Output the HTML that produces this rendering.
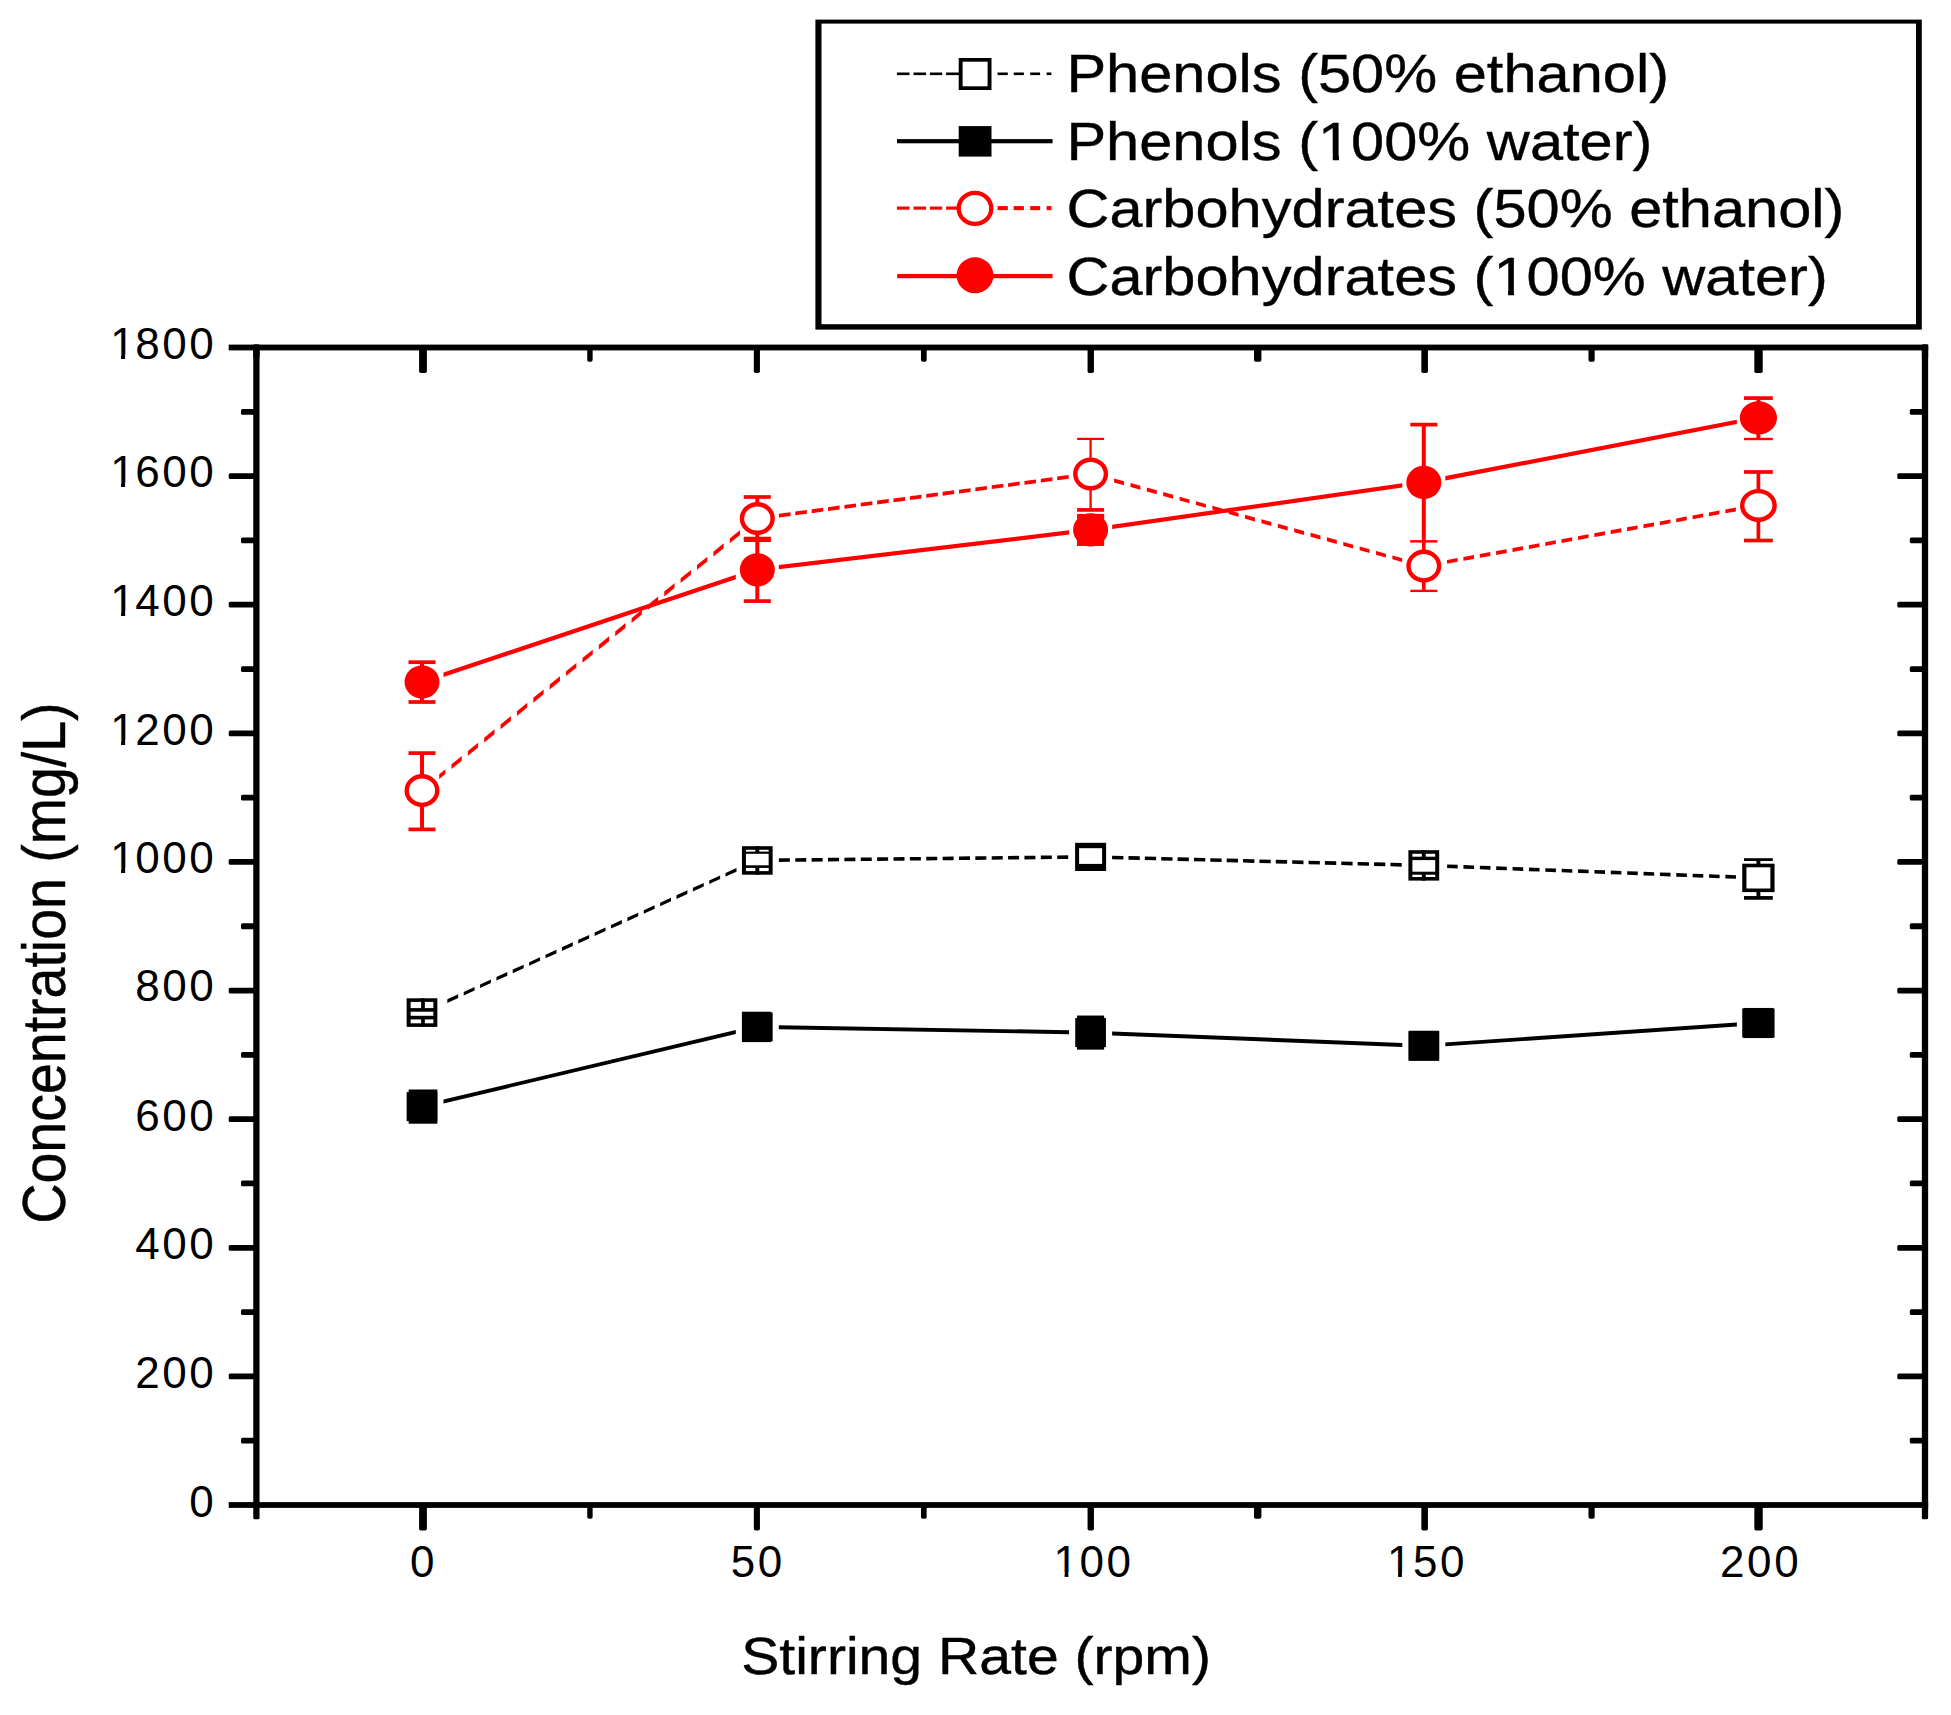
<!DOCTYPE html>
<html lang="en">
<head>
<meta charset="utf-8">
<title>Concentration vs Stirring Rate</title>
<style>
html,body{margin:0;padding:0;background:#fff;}
body{width:1951px;height:1715px;overflow:hidden;}
svg{display:block;font-family:"Liberation Sans", Arial, Helvetica, sans-serif;}
</style>
</head>
<body>
<svg width="1951" height="1715" viewBox="0 0 1951 1715" shape-rendering="geometricPrecision">
<rect x="0" y="0" width="1951" height="1715" fill="#fff"/>
<rect x="228.70" y="344.60" width="1699.45" height="5.80" fill="#000"/>
<rect x="228.70" y="1502.10" width="1699.45" height="5.80" fill="#000"/>
<rect x="253.25" y="344.60" width="6.30" height="1174.70" rx="1.5" ry="1.5" fill="#000"/>
<rect x="1921.85" y="344.60" width="6.30" height="1174.70" rx="1.5" ry="1.5" fill="#000"/>
<rect x="253.25" y="344.60" width="6.30" height="12.90" fill="#000"/>
<rect x="1921.85" y="344.60" width="6.30" height="12.90" fill="#000"/>
<rect x="241.00" y="1437.79" width="15.40" height="5.80" rx="1.5" ry="1.5" fill="#000"/>
<rect x="1909.80" y="1437.79" width="15.20" height="5.80" rx="1.5" ry="1.5" fill="#000"/>
<rect x="228.70" y="1373.49" width="27.70" height="5.80" rx="1.5" ry="1.5" fill="#000"/>
<rect x="1897.30" y="1373.49" width="27.70" height="5.80" rx="1.5" ry="1.5" fill="#000"/>
<rect x="241.00" y="1309.18" width="15.40" height="5.80" rx="1.5" ry="1.5" fill="#000"/>
<rect x="1909.80" y="1309.18" width="15.20" height="5.80" rx="1.5" ry="1.5" fill="#000"/>
<rect x="228.70" y="1244.88" width="27.70" height="5.80" rx="1.5" ry="1.5" fill="#000"/>
<rect x="1897.30" y="1244.88" width="27.70" height="5.80" rx="1.5" ry="1.5" fill="#000"/>
<rect x="241.00" y="1180.57" width="15.40" height="5.80" rx="1.5" ry="1.5" fill="#000"/>
<rect x="1909.80" y="1180.57" width="15.20" height="5.80" rx="1.5" ry="1.5" fill="#000"/>
<rect x="228.70" y="1116.27" width="27.70" height="5.80" rx="1.5" ry="1.5" fill="#000"/>
<rect x="1897.30" y="1116.27" width="27.70" height="5.80" rx="1.5" ry="1.5" fill="#000"/>
<rect x="241.00" y="1051.96" width="15.40" height="5.80" rx="1.5" ry="1.5" fill="#000"/>
<rect x="1909.80" y="1051.96" width="15.20" height="5.80" rx="1.5" ry="1.5" fill="#000"/>
<rect x="228.70" y="987.66" width="27.70" height="5.80" rx="1.5" ry="1.5" fill="#000"/>
<rect x="1897.30" y="987.66" width="27.70" height="5.80" rx="1.5" ry="1.5" fill="#000"/>
<rect x="241.00" y="923.35" width="15.40" height="5.80" rx="1.5" ry="1.5" fill="#000"/>
<rect x="1909.80" y="923.35" width="15.20" height="5.80" rx="1.5" ry="1.5" fill="#000"/>
<rect x="228.70" y="859.04" width="27.70" height="5.80" rx="1.5" ry="1.5" fill="#000"/>
<rect x="1897.30" y="859.04" width="27.70" height="5.80" rx="1.5" ry="1.5" fill="#000"/>
<rect x="241.00" y="794.74" width="15.40" height="5.80" rx="1.5" ry="1.5" fill="#000"/>
<rect x="1909.80" y="794.74" width="15.20" height="5.80" rx="1.5" ry="1.5" fill="#000"/>
<rect x="228.70" y="730.43" width="27.70" height="5.80" rx="1.5" ry="1.5" fill="#000"/>
<rect x="1897.30" y="730.43" width="27.70" height="5.80" rx="1.5" ry="1.5" fill="#000"/>
<rect x="241.00" y="666.13" width="15.40" height="5.80" rx="1.5" ry="1.5" fill="#000"/>
<rect x="1909.80" y="666.13" width="15.20" height="5.80" rx="1.5" ry="1.5" fill="#000"/>
<rect x="228.70" y="601.82" width="27.70" height="5.80" rx="1.5" ry="1.5" fill="#000"/>
<rect x="1897.30" y="601.82" width="27.70" height="5.80" rx="1.5" ry="1.5" fill="#000"/>
<rect x="241.00" y="537.52" width="15.40" height="5.80" rx="1.5" ry="1.5" fill="#000"/>
<rect x="1909.80" y="537.52" width="15.20" height="5.80" rx="1.5" ry="1.5" fill="#000"/>
<rect x="228.70" y="473.21" width="27.70" height="5.80" rx="1.5" ry="1.5" fill="#000"/>
<rect x="1897.30" y="473.21" width="27.70" height="5.80" rx="1.5" ry="1.5" fill="#000"/>
<rect x="241.00" y="408.91" width="15.40" height="5.80" rx="1.5" ry="1.5" fill="#000"/>
<rect x="1909.80" y="408.91" width="15.20" height="5.80" rx="1.5" ry="1.5" fill="#000"/>
<rect x="419.10" y="1505.00" width="7.80" height="25.50" rx="1.8" ry="1.8" fill="#000"/>
<rect x="419.10" y="347.50" width="7.80" height="25.50" rx="1.8" ry="1.8" fill="#000"/>
<rect x="587.24" y="1505.00" width="5.40" height="13.80" rx="1.8" ry="1.8" fill="#000"/>
<rect x="587.24" y="347.50" width="5.40" height="14.30" rx="1.8" ry="1.8" fill="#000"/>
<rect x="753.83" y="1505.00" width="6.10" height="25.50" rx="1.8" ry="1.8" fill="#000"/>
<rect x="753.83" y="347.50" width="6.10" height="25.50" rx="1.8" ry="1.8" fill="#000"/>
<rect x="920.97" y="1505.00" width="5.70" height="13.80" rx="1.8" ry="1.8" fill="#000"/>
<rect x="920.97" y="347.50" width="5.70" height="14.30" rx="1.8" ry="1.8" fill="#000"/>
<rect x="1087.56" y="1505.00" width="6.40" height="25.50" rx="1.8" ry="1.8" fill="#000"/>
<rect x="1087.56" y="347.50" width="6.40" height="25.50" rx="1.8" ry="1.8" fill="#000"/>
<rect x="1254.00" y="1505.00" width="7.40" height="13.80" rx="1.8" ry="1.8" fill="#000"/>
<rect x="1254.00" y="347.50" width="7.40" height="14.30" rx="1.8" ry="1.8" fill="#000"/>
<rect x="1421.34" y="1505.00" width="6.60" height="25.50" rx="1.8" ry="1.8" fill="#000"/>
<rect x="1421.34" y="347.50" width="6.60" height="25.50" rx="1.8" ry="1.8" fill="#000"/>
<rect x="1588.48" y="1505.00" width="6.20" height="13.80" rx="1.8" ry="1.8" fill="#000"/>
<rect x="1588.48" y="347.50" width="6.20" height="14.30" rx="1.8" ry="1.8" fill="#000"/>
<rect x="1754.32" y="1505.00" width="8.40" height="25.50" rx="1.8" ry="1.8" fill="#000"/>
<rect x="1754.32" y="347.50" width="8.40" height="25.50" rx="1.8" ry="1.8" fill="#000"/>
<text transform="translate(216.30,1516.90) scale(0.989165,1)" font-size="44.5" text-anchor="end" fill="#000" letter-spacing="2.6">0</text>
<text transform="translate(216.30,1387.99) scale(0.989165,1)" font-size="44.5" text-anchor="end" fill="#000" letter-spacing="2.6">200</text>
<text transform="translate(216.30,1259.38) scale(0.989165,1)" font-size="44.5" text-anchor="end" fill="#000" letter-spacing="2.6">400</text>
<text transform="translate(216.30,1130.77) scale(0.989165,1)" font-size="44.5" text-anchor="end" fill="#000" letter-spacing="2.6">600</text>
<text transform="translate(216.30,1001.36) scale(0.989165,1)" font-size="44.5" text-anchor="end" fill="#000" letter-spacing="2.6">800</text>
<text transform="translate(216.30,872.74) scale(0.989165,1)" font-size="44.5" text-anchor="end" fill="#000" letter-spacing="2.6" dx="0 -2.1">1000</text>
<text transform="translate(216.30,745.43) scale(0.989165,1)" font-size="44.5" text-anchor="end" fill="#000" letter-spacing="2.6" dx="0 -2.1">1200</text>
<text transform="translate(216.30,616.32) scale(0.989165,1)" font-size="44.5" text-anchor="end" fill="#000" letter-spacing="2.6" dx="0 -2.1">1400</text>
<text transform="translate(216.30,487.21) scale(0.989165,1)" font-size="44.5" text-anchor="end" fill="#000" letter-spacing="2.6" dx="0 -2.1">1600</text>
<text transform="translate(216.30,359.40) scale(0.989165,1)" font-size="44.5" text-anchor="end" fill="#000" letter-spacing="2.6" dx="0 -2.1">1800</text>
<text transform="translate(423.40,1577.40) scale(0.989165,1)" font-size="44.5" text-anchor="middle" fill="#000" letter-spacing="2.6">0</text>
<text transform="translate(757.78,1577.40) scale(0.989165,1)" font-size="44.5" text-anchor="middle" fill="#000" letter-spacing="2.6">50</text>
<text transform="translate(1093.56,1577.40) scale(0.989165,1)" font-size="44.5" text-anchor="middle" fill="#000" letter-spacing="2.6" dx="0 -1.0">100</text>
<text transform="translate(1427.04,1577.40) scale(0.989165,1)" font-size="44.5" text-anchor="middle" fill="#000" letter-spacing="2.6" dx="0 -1.0">150</text>
<text transform="translate(1760.62,1577.40) scale(0.989165,1)" font-size="44.5" text-anchor="middle" fill="#000" letter-spacing="2.6">200</text>
<text transform="translate(741.20,1674.30) scale(1.1096136,1)" font-size="51.5" text-anchor="start" fill="#000" stroke="#000" stroke-width="0.4" stroke-linejoin="round" id="xt">Stirring Rate (rpm)</text>
<text transform="translate(65.20,1223.60) scale(1.093,1) rotate(-90)" font-size="55.5" text-anchor="start" fill="#000" stroke="#000" stroke-width="0.4" stroke-linejoin="round" id="yt">Concentration (mg/L)</text>
<polygon points="443.50,1099.54 735.80,1030.06 735.80,1033.96 443.50,1103.44" fill="#000"/>
<polygon points="778.80,1025.32 1069.10,1030.28 1069.10,1034.18 778.80,1029.22" fill="#000"/>
<polygon points="1112.10,1031.50 1402.30,1043.00 1402.30,1046.90 1112.10,1035.40" fill="#000"/>
<polygon points="1445.30,1042.38 1736.90,1022.52 1736.90,1026.42 1445.30,1046.28" fill="#000"/>
<rect x="406.65" y="1092.10" width="30.70" height="29.00" fill="#000"/>
<rect x="408.65" y="1089.50" width="28.70" height="34.20" fill="#000"/>
<rect x="741.95" y="1012.40" width="30.70" height="29.00" fill="#000"/>
<rect x="741.95" y="1011.70" width="28.90" height="30.40" fill="#000"/>
<rect x="1075.25" y="1018.10" width="30.70" height="29.00" fill="#000"/>
<rect x="1077.05" y="1015.55" width="27.10" height="34.10" fill="#000"/>
<rect x="1408.45" y="1031.30" width="30.70" height="29.00" fill="#000"/>
<rect x="1408.85" y="1030.75" width="30.30" height="30.10" fill="#000"/>
<rect x="1742.25" y="1008.50" width="32.30" height="29.00" fill="#000"/>
<rect x="1743.45" y="1007.95" width="29.90" height="30.10" fill="#000"/>
<polygon points="447.30,999.32 458.20,994.37 458.20,997.97 447.30,1002.92" fill="#000"/>
<polygon points="463.67,991.89 474.57,986.94 474.57,990.54 463.67,995.49" fill="#000"/>
<polygon points="480.04,984.45 490.94,979.51 490.94,983.11 480.04,988.05" fill="#000"/>
<polygon points="496.41,977.02 507.31,972.08 507.31,975.68 496.41,980.62" fill="#000"/>
<polygon points="512.78,969.59 523.68,964.65 523.68,968.25 512.78,973.19" fill="#000"/>
<polygon points="529.15,962.16 540.05,957.21 540.05,960.81 529.15,965.76" fill="#000"/>
<polygon points="545.52,954.73 556.42,949.78 556.42,953.38 545.52,958.33" fill="#000"/>
<polygon points="561.89,947.30 572.79,942.35 572.79,945.95 561.89,950.90" fill="#000"/>
<polygon points="578.26,939.87 589.16,934.92 589.16,938.52 578.26,943.47" fill="#000"/>
<polygon points="594.63,932.44 605.53,927.49 605.53,931.09 594.63,936.04" fill="#000"/>
<polygon points="611.00,925.01 621.90,920.06 621.90,923.66 611.00,928.61" fill="#000"/>
<polygon points="627.37,917.58 638.27,912.63 638.27,916.23 627.37,921.18" fill="#000"/>
<polygon points="643.74,910.15 654.64,905.20 654.64,908.80 643.74,913.75" fill="#000"/>
<polygon points="660.11,902.72 671.01,897.77 671.01,901.37 660.11,906.32" fill="#000"/>
<polygon points="676.48,895.29 687.38,890.34 687.38,893.94 676.48,898.89" fill="#000"/>
<polygon points="692.85,887.86 703.75,882.91 703.75,886.51 692.85,891.46" fill="#000"/>
<polygon points="709.22,880.42 720.12,875.48 720.12,879.08 709.22,884.02" fill="#000"/>
<polygon points="725.59,872.99 736.49,868.05 736.49,871.65 725.59,876.59" fill="#000"/>
<polygon points="778.90,858.37 789.90,858.26 789.90,861.86 778.90,861.97" fill="#000"/>
<polygon points="795.27,858.20 806.27,858.09 806.27,861.69 795.27,861.80" fill="#000"/>
<polygon points="811.64,858.03 822.64,857.91 822.64,861.51 811.64,861.63" fill="#000"/>
<polygon points="828.01,857.86 839.01,857.74 839.01,861.34 828.01,861.46" fill="#000"/>
<polygon points="844.38,857.69 855.38,857.57 855.38,861.17 844.38,861.29" fill="#000"/>
<polygon points="860.75,857.51 871.75,857.40 871.75,861.00 860.75,861.11" fill="#000"/>
<polygon points="877.12,857.34 888.12,857.23 888.12,860.83 877.12,860.94" fill="#000"/>
<polygon points="893.49,857.17 904.49,857.05 904.49,860.65 893.49,860.77" fill="#000"/>
<polygon points="909.86,857.00 920.86,856.88 920.86,860.48 909.86,860.60" fill="#000"/>
<polygon points="926.23,856.83 937.23,856.71 937.23,860.31 926.23,860.43" fill="#000"/>
<polygon points="942.60,856.65 953.60,856.54 953.60,860.14 942.60,860.25" fill="#000"/>
<polygon points="958.97,856.48 969.97,856.37 969.97,859.97 958.97,860.08" fill="#000"/>
<polygon points="975.34,856.31 986.34,856.19 986.34,859.79 975.34,859.91" fill="#000"/>
<polygon points="991.71,856.14 1002.71,856.02 1002.71,859.62 991.71,859.74" fill="#000"/>
<polygon points="1008.08,855.97 1019.08,855.85 1019.08,859.45 1008.08,859.57" fill="#000"/>
<polygon points="1024.45,855.79 1035.45,855.68 1035.45,859.28 1024.45,859.39" fill="#000"/>
<polygon points="1040.82,855.62 1051.82,855.51 1051.82,859.11 1040.82,859.22" fill="#000"/>
<polygon points="1057.19,855.45 1068.19,855.34 1068.19,858.94 1057.19,859.05" fill="#000"/>
<polygon points="1112.10,855.65 1123.40,855.94 1123.40,859.54 1112.10,859.25" fill="#000"/>
<polygon points="1128.47,856.07 1139.77,856.35 1139.77,859.95 1128.47,859.67" fill="#000"/>
<polygon points="1144.84,856.48 1156.14,856.77 1156.14,860.37 1144.84,860.08" fill="#000"/>
<polygon points="1161.21,856.90 1172.51,857.19 1172.51,860.79 1161.21,860.50" fill="#000"/>
<polygon points="1177.58,857.32 1188.88,857.61 1188.88,861.21 1177.58,860.92" fill="#000"/>
<polygon points="1193.95,857.74 1205.25,858.02 1205.25,861.62 1193.95,861.34" fill="#000"/>
<polygon points="1210.32,858.15 1221.62,858.44 1221.62,862.04 1210.32,861.75" fill="#000"/>
<polygon points="1226.69,858.57 1237.99,858.86 1237.99,862.46 1226.69,862.17" fill="#000"/>
<polygon points="1243.06,858.99 1254.36,859.28 1254.36,862.88 1243.06,862.59" fill="#000"/>
<polygon points="1259.43,859.41 1270.73,859.70 1270.73,863.30 1259.43,863.01" fill="#000"/>
<polygon points="1275.80,859.82 1287.10,860.11 1287.10,863.71 1275.80,863.42" fill="#000"/>
<polygon points="1292.17,860.24 1303.47,860.53 1303.47,864.13 1292.17,863.84" fill="#000"/>
<polygon points="1308.54,860.66 1319.84,860.95 1319.84,864.55 1308.54,864.26" fill="#000"/>
<polygon points="1324.91,861.08 1336.21,861.37 1336.21,864.97 1324.91,864.68" fill="#000"/>
<polygon points="1341.28,861.49 1352.58,861.78 1352.58,865.38 1341.28,865.09" fill="#000"/>
<polygon points="1357.65,861.91 1368.95,862.20 1368.95,865.80 1357.65,865.51" fill="#000"/>
<polygon points="1374.02,862.33 1385.32,862.62 1385.32,866.22 1374.02,865.93" fill="#000"/>
<polygon points="1390.39,862.75 1401.69,863.04 1401.69,866.64 1390.39,866.35" fill="#000"/>
<polygon points="1447.10,864.47 1457.70,864.87 1457.70,868.47 1447.10,868.07" fill="#000"/>
<polygon points="1463.47,865.08 1474.07,865.48 1474.07,869.08 1463.47,868.68" fill="#000"/>
<polygon points="1479.84,865.69 1490.44,866.09 1490.44,869.69 1479.84,869.29" fill="#000"/>
<polygon points="1496.21,866.31 1506.81,866.70 1506.81,870.30 1496.21,869.91" fill="#000"/>
<polygon points="1512.58,866.92 1523.18,867.31 1523.18,870.91 1512.58,870.52" fill="#000"/>
<polygon points="1528.95,867.53 1539.55,867.92 1539.55,871.52 1528.95,871.13" fill="#000"/>
<polygon points="1545.32,868.14 1555.92,868.54 1555.92,872.14 1545.32,871.74" fill="#000"/>
<polygon points="1561.69,868.75 1572.29,869.15 1572.29,872.75 1561.69,872.35" fill="#000"/>
<polygon points="1578.06,869.36 1588.66,869.76 1588.66,873.36 1578.06,872.96" fill="#000"/>
<polygon points="1594.43,869.97 1605.03,870.37 1605.03,873.97 1594.43,873.57" fill="#000"/>
<polygon points="1610.80,870.59 1621.40,870.98 1621.40,874.58 1610.80,874.19" fill="#000"/>
<polygon points="1627.17,871.20 1637.77,871.59 1637.77,875.19 1627.17,874.80" fill="#000"/>
<polygon points="1643.54,871.81 1654.14,872.21 1654.14,875.81 1643.54,875.41" fill="#000"/>
<polygon points="1659.91,872.42 1670.51,872.82 1670.51,876.42 1659.91,876.02" fill="#000"/>
<polygon points="1676.28,873.03 1686.88,873.43 1686.88,877.03 1676.28,876.63" fill="#000"/>
<polygon points="1692.65,873.64 1703.25,874.04 1703.25,877.64 1692.65,877.24" fill="#000"/>
<polygon points="1709.02,874.26 1719.62,874.65 1719.62,878.25 1709.02,877.86" fill="#000"/>
<polygon points="1725.39,874.87 1735.99,875.26 1735.99,878.86 1725.39,878.47" fill="#000"/>
<rect x="406.65" y="998.30" width="30.70" height="28.60" fill="#000"/>
<rect x="410.65" y="1001.90" width="22.70" height="21.40" fill="#fff"/>
<rect x="408.00" y="1008.10" width="28.00" height="3.60" fill="#000"/>
<rect x="408.00" y="1015.80" width="28.00" height="3.60" fill="#000"/>
<rect x="421.15" y="998.30" width="3.70" height="11.60" fill="#000"/>
<rect x="421.15" y="1017.60" width="3.70" height="9.30" fill="#000"/>
<rect x="741.95" y="846.20" width="30.70" height="28.50" fill="#000"/>
<rect x="745.95" y="849.80" width="22.70" height="21.30" fill="#fff"/>
<rect x="743.30" y="851.60" width="28.00" height="2.20" fill="#000"/>
<rect x="743.30" y="865.30" width="28.00" height="2.60" fill="#000"/>
<rect x="755.35" y="846.20" width="3.90" height="6.50" fill="#000"/>
<rect x="755.35" y="866.60" width="3.90" height="8.10" fill="#000"/>
<rect x="1075.10" y="842.80" width="31.00" height="28.20" fill="#000"/>
<rect x="1079.10" y="848.20" width="23.00" height="15.70" fill="#fff"/>
<rect x="1408.40" y="850.20" width="30.80" height="30.40" fill="#000"/>
<rect x="1412.40" y="853.80" width="22.80" height="23.20" fill="#fff"/>
<rect x="1409.80" y="856.70" width="28.00" height="3.40" fill="#000"/>
<rect x="1409.80" y="871.70" width="28.00" height="3.00" fill="#000"/>
<rect x="1421.85" y="850.20" width="3.90" height="8.20" fill="#000"/>
<rect x="1421.85" y="873.20" width="3.90" height="7.40" fill="#000"/>
<rect x="1756.45" y="859.60" width="3.90" height="38.30" fill="#000"/>
<rect x="1744.00" y="858.20" width="28.80" height="2.80" fill="#000"/>
<rect x="1744.00" y="896.05" width="28.80" height="3.70" fill="#000"/>
<rect x="1742.25" y="863.70" width="32.30" height="28.40" fill="#000"/>
<rect x="1746.45" y="867.30" width="23.90" height="21.20" fill="#fff"/>
<polygon points="439.20,774.23 445.40,769.20 445.40,774.03 439.20,779.06" fill="#ff0000"/>
<polygon points="451.47,764.27 461.77,755.91 461.77,760.74 451.47,769.10" fill="#ff0000"/>
<polygon points="467.84,750.99 478.14,742.63 478.14,747.46 467.84,755.82" fill="#ff0000"/>
<polygon points="484.21,737.70 494.51,729.34 494.51,734.17 484.21,742.53" fill="#ff0000"/>
<polygon points="500.58,724.42 510.88,716.06 510.88,720.89 500.58,729.25" fill="#ff0000"/>
<polygon points="516.95,711.13 527.25,702.77 527.25,707.60 516.95,715.96" fill="#ff0000"/>
<polygon points="533.32,697.85 543.62,689.49 543.62,694.32 533.32,702.68" fill="#ff0000"/>
<polygon points="549.69,684.56 559.99,676.20 559.99,681.03 549.69,689.39" fill="#ff0000"/>
<polygon points="566.06,671.28 576.36,662.92 576.36,667.75 566.06,676.11" fill="#ff0000"/>
<polygon points="582.43,657.99 592.73,649.64 592.73,654.47 582.43,662.82" fill="#ff0000"/>
<polygon points="598.80,644.71 609.10,636.35 609.10,641.18 598.80,649.54" fill="#ff0000"/>
<polygon points="615.17,631.43 625.47,623.07 625.47,627.90 615.17,636.25" fill="#ff0000"/>
<polygon points="631.54,618.14 641.84,609.78 641.84,614.61 631.54,622.97" fill="#ff0000"/>
<polygon points="647.91,604.86 658.21,596.50 658.21,601.33 647.91,609.69" fill="#ff0000"/>
<polygon points="664.28,591.57 674.58,583.21 674.58,588.04 664.28,596.40" fill="#ff0000"/>
<polygon points="680.65,578.29 690.95,569.93 690.95,574.76 680.65,583.12" fill="#ff0000"/>
<polygon points="697.02,565.00 707.32,556.64 707.32,561.47 697.02,569.83" fill="#ff0000"/>
<polygon points="713.39,551.72 723.69,543.36 723.69,548.19 713.39,556.55" fill="#ff0000"/>
<polygon points="729.76,538.43 740.06,530.08 740.06,534.91 729.76,543.26" fill="#ff0000"/>
<polygon points="778.90,513.72 790.50,512.18 790.50,515.96 778.90,517.51" fill="#ff0000"/>
<polygon points="795.27,511.54 806.87,509.99 806.87,513.77 795.27,515.32" fill="#ff0000"/>
<polygon points="811.64,509.35 823.24,507.80 823.24,511.59 811.64,513.14" fill="#ff0000"/>
<polygon points="828.01,507.17 839.61,505.62 839.61,509.40 828.01,510.95" fill="#ff0000"/>
<polygon points="844.38,504.98 855.98,503.43 855.98,507.22 844.38,508.77" fill="#ff0000"/>
<polygon points="860.75,502.80 872.35,501.25 872.35,505.03 860.75,506.58" fill="#ff0000"/>
<polygon points="877.12,500.61 888.72,499.06 888.72,502.85 877.12,504.39" fill="#ff0000"/>
<polygon points="893.49,498.43 905.09,496.88 905.09,500.66 893.49,502.21" fill="#ff0000"/>
<polygon points="909.86,496.24 921.46,494.69 921.46,498.47 909.86,500.02" fill="#ff0000"/>
<polygon points="926.23,494.05 937.83,492.51 937.83,496.29 926.23,497.84" fill="#ff0000"/>
<polygon points="942.60,491.87 954.20,490.32 954.20,494.10 942.60,495.65" fill="#ff0000"/>
<polygon points="958.97,489.68 970.57,488.13 970.57,491.92 958.97,493.47" fill="#ff0000"/>
<polygon points="975.34,487.50 986.94,485.95 986.94,489.73 975.34,491.28" fill="#ff0000"/>
<polygon points="991.71,485.31 1003.31,483.76 1003.31,487.55 991.71,489.09" fill="#ff0000"/>
<polygon points="1008.08,483.13 1019.68,481.58 1019.68,485.36 1008.08,486.91" fill="#ff0000"/>
<polygon points="1024.45,480.94 1036.05,479.39 1036.05,483.17 1024.45,484.72" fill="#ff0000"/>
<polygon points="1040.82,478.75 1052.42,477.21 1052.42,480.99 1040.82,482.54" fill="#ff0000"/>
<polygon points="1057.19,476.57 1068.70,475.03 1068.70,478.82 1057.19,480.35" fill="#ff0000"/>
<polygon points="1114.10,478.55 1124.00,481.29 1124.00,485.18 1114.10,482.44" fill="#ff0000"/>
<polygon points="1130.47,483.08 1140.37,485.81 1140.37,489.70 1130.47,486.97" fill="#ff0000"/>
<polygon points="1146.84,487.60 1156.74,490.34 1156.74,494.23 1146.84,491.49" fill="#ff0000"/>
<polygon points="1163.21,492.12 1173.11,494.86 1173.11,498.75 1163.21,496.02" fill="#ff0000"/>
<polygon points="1179.58,496.65 1189.48,499.39 1189.48,503.28 1179.58,500.54" fill="#ff0000"/>
<polygon points="1195.95,501.17 1205.85,503.91 1205.85,507.80 1195.95,505.07" fill="#ff0000"/>
<polygon points="1212.32,505.70 1222.22,508.44 1222.22,512.33 1212.32,509.59" fill="#ff0000"/>
<polygon points="1228.69,510.22 1238.59,512.96 1238.59,516.85 1228.69,514.11" fill="#ff0000"/>
<polygon points="1245.06,514.75 1254.96,517.49 1254.96,521.38 1245.06,518.64" fill="#ff0000"/>
<polygon points="1261.43,519.27 1271.33,522.01 1271.33,525.90 1261.43,523.16" fill="#ff0000"/>
<polygon points="1277.80,523.80 1287.70,526.54 1287.70,530.43 1277.80,527.69" fill="#ff0000"/>
<polygon points="1294.17,528.32 1304.07,531.06 1304.07,534.95 1294.17,532.21" fill="#ff0000"/>
<polygon points="1310.54,532.85 1320.44,535.58 1320.44,539.48 1310.54,536.74" fill="#ff0000"/>
<polygon points="1326.91,537.37 1336.81,540.11 1336.81,544.00 1326.91,541.26" fill="#ff0000"/>
<polygon points="1343.28,541.90 1353.18,544.63 1353.18,548.53 1343.28,545.79" fill="#ff0000"/>
<polygon points="1359.65,546.42 1369.55,549.16 1369.55,553.05 1359.65,550.31" fill="#ff0000"/>
<polygon points="1376.02,550.95 1385.92,553.68 1385.92,557.57 1376.02,554.84" fill="#ff0000"/>
<polygon points="1392.39,555.47 1402.10,558.16 1402.10,562.05 1392.39,559.36" fill="#ff0000"/>
<polygon points="1447.00,559.99 1457.60,558.06 1457.60,561.87 1447.00,563.80" fill="#ff0000"/>
<polygon points="1463.37,557.02 1473.97,555.09 1473.97,558.90 1463.37,560.83" fill="#ff0000"/>
<polygon points="1479.74,554.05 1490.34,552.12 1490.34,555.93 1479.74,557.86" fill="#ff0000"/>
<polygon points="1496.11,551.08 1506.71,549.15 1506.71,552.96 1496.11,554.89" fill="#ff0000"/>
<polygon points="1512.48,548.11 1523.08,546.18 1523.08,550.00 1512.48,551.92" fill="#ff0000"/>
<polygon points="1528.85,545.14 1539.45,543.21 1539.45,547.03 1528.85,548.95" fill="#ff0000"/>
<polygon points="1545.22,542.17 1555.82,540.24 1555.82,544.06 1545.22,545.98" fill="#ff0000"/>
<polygon points="1561.59,539.20 1572.19,537.27 1572.19,541.09 1561.59,543.01" fill="#ff0000"/>
<polygon points="1577.96,536.23 1588.56,534.31 1588.56,538.12 1577.96,540.04" fill="#ff0000"/>
<polygon points="1594.33,533.26 1604.93,531.34 1604.93,535.15 1594.33,537.07" fill="#ff0000"/>
<polygon points="1610.70,530.29 1621.30,528.37 1621.30,532.18 1610.70,534.10" fill="#ff0000"/>
<polygon points="1627.07,527.32 1637.67,525.40 1637.67,529.21 1627.07,531.13" fill="#ff0000"/>
<polygon points="1643.44,524.35 1654.04,522.43 1654.04,526.24 1643.44,528.16" fill="#ff0000"/>
<polygon points="1659.81,521.38 1670.41,519.46 1670.41,523.27 1659.81,525.19" fill="#ff0000"/>
<polygon points="1676.18,518.41 1686.78,516.49 1686.78,520.30 1676.18,522.22" fill="#ff0000"/>
<polygon points="1692.55,515.44 1703.15,513.52 1703.15,517.33 1692.55,519.25" fill="#ff0000"/>
<polygon points="1708.92,512.47 1719.52,510.55 1719.52,514.36 1708.92,516.28" fill="#ff0000"/>
<polygon points="1725.29,509.50 1735.89,507.58 1735.89,511.39 1725.29,513.31" fill="#ff0000"/>
<polygon points="443.50,672.56 735.80,574.75 735.80,579.24 443.50,677.05" fill="#ff0000"/>
<polygon points="778.80,565.09 1069.10,530.33 1069.10,534.61 778.80,569.37" fill="#ff0000"/>
<polygon points="1112.10,524.69 1402.30,483.32 1402.30,487.61 1112.10,528.98" fill="#ff0000"/>
<polygon points="1445.30,476.08 1736.90,419.79 1736.90,424.12 1445.30,480.41" fill="#ff0000"/>
<rect x="420.00" y="753.10" width="4.00" height="76.30" fill="#ff0000"/>
<rect x="408.50" y="751.25" width="27.00" height="3.70" fill="#ff0000"/>
<rect x="408.50" y="827.55" width="27.00" height="3.70" fill="#ff0000"/>
<ellipse cx="422.0" cy="790.6" rx="15.3" ry="14.3" fill="#fff" stroke="#ff0000" stroke-width="4.4"/>
<rect x="755.35" y="497.00" width="3.90" height="42.70" fill="#ff0000"/>
<rect x="743.80" y="495.15" width="27.00" height="3.70" fill="#ff0000"/>
<rect x="743.80" y="537.40" width="27.00" height="4.60" fill="#ff0000"/>
<ellipse cx="757.3" cy="518.5" rx="15.3" ry="14.3" fill="#fff" stroke="#ff0000" stroke-width="4.4"/>
<rect x="1089.45" y="438.90" width="2.30" height="71.00" fill="#ff0000"/>
<rect x="1077.10" y="437.80" width="27.00" height="2.20" fill="#ff0000"/>
<rect x="1077.10" y="508.05" width="27.00" height="3.70" fill="#ff0000"/>
<ellipse cx="1090.6" cy="474.0" rx="15.3" ry="14.3" fill="#fff" stroke="#ff0000" stroke-width="4.4"/>
<rect x="1422.00" y="541.30" width="3.60" height="49.60" fill="#ff0000"/>
<rect x="1410.30" y="540.30" width="27.00" height="2.00" fill="#ff0000"/>
<rect x="1410.30" y="589.75" width="27.00" height="2.30" fill="#ff0000"/>
<ellipse cx="1423.8" cy="566.1" rx="15.3" ry="14.3" fill="#fff" stroke="#ff0000" stroke-width="4.4"/>
<rect x="1756.55" y="472.00" width="3.70" height="68.50" fill="#ff0000"/>
<rect x="1744.00" y="470.15" width="28.80" height="3.70" fill="#ff0000"/>
<rect x="1744.00" y="538.65" width="28.80" height="3.70" fill="#ff0000"/>
<ellipse cx="1758.4" cy="505.4" rx="16.2" ry="14.3" fill="#fff" stroke="#ff0000" stroke-width="4.4"/>
<rect x="420.00" y="662.20" width="4.00" height="39.80" fill="#ff0000"/>
<rect x="408.50" y="660.35" width="27.00" height="3.70" fill="#ff0000"/>
<rect x="408.50" y="700.15" width="27.00" height="3.70" fill="#ff0000"/>
<ellipse cx="422.0" cy="682.0" rx="17.5" ry="16.6" fill="#ff0000"/>
<rect x="755.30" y="538.60" width="4.00" height="62.50" fill="#ff0000"/>
<rect x="743.80" y="536.75" width="27.00" height="3.70" fill="#ff0000"/>
<rect x="743.80" y="599.25" width="27.00" height="3.70" fill="#ff0000"/>
<ellipse cx="757.3" cy="569.8" rx="17.5" ry="16.6" fill="#ff0000"/>
<rect x="1088.60" y="515.80" width="4.00" height="28.20" fill="#ff0000"/>
<rect x="1077.10" y="513.95" width="27.00" height="3.70" fill="#ff0000"/>
<rect x="1077.10" y="542.15" width="27.00" height="3.70" fill="#ff0000"/>
<rect x="1077.10" y="513.95" width="27.00" height="31.90" fill="#ff0000"/>
<ellipse cx="1090.6" cy="529.9" rx="17.5" ry="16.6" fill="#ff0000"/>
<rect x="1421.80" y="424.60" width="4.00" height="116.80" fill="#ff0000"/>
<rect x="1410.30" y="422.75" width="27.00" height="3.70" fill="#ff0000"/>
<rect x="1410.30" y="540.40" width="27.00" height="2.00" fill="#ff0000"/>
<ellipse cx="1423.8" cy="482.4" rx="17.5" ry="16.6" fill="#ff0000"/>
<rect x="1756.40" y="398.10" width="4.00" height="40.90" fill="#ff0000"/>
<rect x="1744.00" y="396.25" width="28.80" height="3.70" fill="#ff0000"/>
<rect x="1744.00" y="437.80" width="28.80" height="2.40" fill="#ff0000"/>
<ellipse cx="1758.4" cy="417.8" rx="18.6" ry="16.6" fill="#ff0000"/>
<rect x="815.40" y="19.60" width="1106.40" height="310.00" fill="#000"/>
<rect x="821.50" y="23.60" width="1094.50" height="300.60" fill="#fff"/>
<rect x="896.90" y="72.50" width="12.60" height="2.60" fill="#000"/>
<rect x="913.50" y="72.50" width="12.60" height="2.60" fill="#000"/>
<rect x="929.90" y="72.50" width="12.30" height="2.60" fill="#000"/>
<rect x="946.10" y="72.50" width="13.90" height="2.60" fill="#000"/>
<rect x="997.60" y="72.50" width="10.20" height="2.60" fill="#000"/>
<rect x="1013.70" y="72.50" width="10.20" height="2.60" fill="#000"/>
<rect x="1030.20" y="72.50" width="9.90" height="2.60" fill="#000"/>
<rect x="1046.60" y="72.50" width="4.80" height="2.60" fill="#000"/>
<rect x="958.70" y="58.00" width="32.80" height="32.00" fill="#000"/>
<rect x="962.60" y="61.70" width="25.00" height="24.60" fill="#fff"/>
<rect x="897.00" y="139.10" width="155.60" height="4.20" fill="#000"/>
<rect x="958.70" y="126.10" width="32.80" height="30.50" fill="#000"/>
<rect x="896.90" y="206.50" width="12.60" height="3.20" fill="#ff0000"/>
<rect x="913.50" y="206.50" width="12.60" height="3.20" fill="#ff0000"/>
<rect x="929.90" y="206.50" width="12.30" height="3.20" fill="#ff0000"/>
<rect x="946.10" y="206.50" width="13.90" height="3.20" fill="#ff0000"/>
<rect x="997.60" y="206.05" width="10.20" height="4.10" fill="#ff0000"/>
<rect x="1013.70" y="206.05" width="10.20" height="4.10" fill="#ff0000"/>
<rect x="1030.20" y="206.05" width="9.90" height="4.10" fill="#ff0000"/>
<rect x="1046.60" y="206.05" width="4.80" height="4.10" fill="#ff0000"/>
<ellipse cx="975" cy="208.4" rx="16.3" ry="15.549999999999999" fill="#fff" stroke="#ff0000" stroke-width="4.3"/>
<rect x="897.20" y="273.95" width="155.40" height="4.30" fill="#ff0000"/>
<ellipse cx="975" cy="275.3" rx="18.45" ry="18.0" fill="#ff0000"/>
<text transform="translate(1066.40,92.00) scale(1.093,1)" font-size="54.5" text-anchor="start" fill="#000" stroke="#000" stroke-width="0.4" stroke-linejoin="round" id="lg0">Phenols (50% ethanol)</text>
<text transform="translate(1066.40,160.00) scale(1.093,1)" font-size="54.5" text-anchor="start" fill="#000" stroke="#000" stroke-width="0.4" stroke-linejoin="round" id="lg1">Phenols (100% water)</text>
<text transform="translate(1066.40,227.00) scale(1.093,1)" font-size="54.5" text-anchor="start" fill="#000" stroke="#000" stroke-width="0.4" stroke-linejoin="round" id="lg2">Carbohydrates (50% ethanol)</text>
<text transform="translate(1066.40,295.00) scale(1.093,1)" font-size="54.5" text-anchor="start" fill="#000" stroke="#000" stroke-width="0.4" stroke-linejoin="round" id="lg3">Carbohydrates (100% water)</text>
<rect x="112.50" y="868.40" width="8.55" height="5.60" fill="#fff"/>
<rect x="125.15" y="868.40" width="9.35" height="5.60" fill="#fff"/>
<rect x="112.50" y="740.40" width="8.55" height="5.60" fill="#fff"/>
<rect x="125.15" y="740.40" width="9.35" height="5.60" fill="#fff"/>
<rect x="112.50" y="611.40" width="8.55" height="5.60" fill="#fff"/>
<rect x="125.15" y="611.40" width="9.35" height="5.60" fill="#fff"/>
<rect x="112.50" y="482.40" width="8.55" height="5.60" fill="#fff"/>
<rect x="125.15" y="482.40" width="9.35" height="5.60" fill="#fff"/>
<rect x="112.50" y="354.40" width="8.55" height="5.60" fill="#fff"/>
<rect x="125.15" y="354.40" width="9.35" height="5.60" fill="#fff"/>
<rect x="1055.50" y="1572.40" width="9.11" height="5.60" fill="#fff"/>
<rect x="1068.39" y="1572.40" width="9.11" height="5.60" fill="#fff"/>
<rect x="1388.50" y="1572.40" width="9.55" height="5.60" fill="#fff"/>
<rect x="1401.95" y="1572.40" width="8.55" height="5.60" fill="#fff"/>
<rect x="1320.50" y="154.40" width="12.26" height="6.60" fill="#fff"/>
<rect x="1338.95" y="154.40" width="11.55" height="6.60" fill="#fff"/>
<rect x="1496.50" y="289.40" width="11.55" height="6.60" fill="#fff"/>
<rect x="1513.95" y="289.40" width="11.55" height="6.60" fill="#fff"/>
</svg>
</body>
</html>
